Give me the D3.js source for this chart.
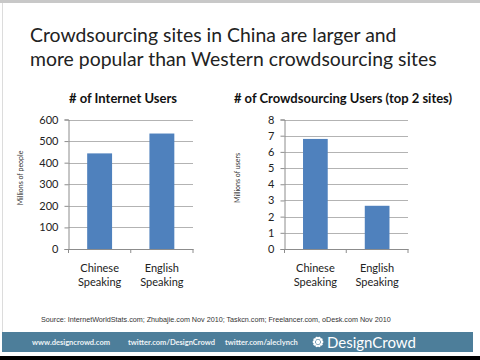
<!DOCTYPE html>
<html>
<head>
<meta charset="utf-8">
<script src="https://cdn.jsdelivr.net/npm/d3@7"></script>
<style>
  body { margin: 0; background: #fff; }
</style>
</head>
<body>
<script>
var width = 480, height = 360;
var FONT = "Lato, 'Open Sans', sans-serif";

// data
var categories = ["Chinese Speaking", "English Speaking"];
var internetUsers = [443, 535];
var crowdUsers = [6.8, 2.67];
var internetTicks = [0, 100, 200, 300, 400, 500, 600];
var crowdTicks = [0, 1, 2, 3, 4, 5, 6, 7, 8];
var titleLines = ["Crowdsourcing sites in China are larger and",
                  "more popular than Western crowdsourcing sites"];
var footerLinks = ["www.designcrowd.com", "twitter.com/DesignCrowd", "twitter.com/aleclynch"];

var svg = d3.select("body").append("svg")
    .attr("width", width)
    .attr("height", height)
    .attr("font-family", FONT);

// slide frame
svg.append("rect").attr("x", 0).attr("y", 0).attr("width", width).attr("height", height).attr("fill", "#fff");
svg.append("rect").attr("x", 0).attr("y", 0).attr("width", width).attr("height", 3).attr("fill", "#c8c8c8");
svg.append("line").attr("x1", 2.5).attr("x2", 2.5).attr("y1", 3).attr("y2", 352)
    .attr("stroke", "#dcdcdc");
svg.append("rect").attr("x", 0).attr("y", 356).attr("width", width).attr("height", 4).attr("fill", "#000");

// main title
svg.append("g").selectAll("text")
    .data(titleLines)
  .enter().append("text")
    .attr("x", 30)
    .attr("y", function(d, i) { return 42 + i * 24; })
    .attr("font-size", 19.4)
    .attr("fill", "#222")
    .text(function(d) { return d; });

function drawChart(opts) {
  var g = svg.append("g");
  var x = d3.scaleBand().domain(categories).range([opts.left, opts.right]).paddingInner(0.6).paddingOuter(0.3);
  var y = d3.scaleLinear().domain([0, opts.max]).range([249, 119.5]);

  // gridlines
  g.selectAll(".grid").data(opts.ticks.slice(1))
    .enter().append("line")
      .attr("x1", opts.left).attr("x2", opts.right)
      .attr("y1", function(d) { return Math.round(y(d)) + 0.5; })
      .attr("y2", function(d) { return Math.round(y(d)) + 0.5; })
      .attr("stroke", "#a0a0a0").attr("stroke-width", 0.8);

  g.selectAll("rect").data(opts.values)
    .enter().append("rect")
      .attr("x", function(d, i) { return x(categories[i]); })
      .attr("width", x.bandwidth())
      .attr("y", function(d) { return y(d); })
      .attr("height", function(d) { return y(0) - y(d); })
      .attr("fill", "#4f81bd");

  var yAxis = g.append("g")
      .attr("transform", "translate(" + opts.left + ",0)")
      .call(d3.axisLeft(y).tickValues(opts.ticks).tickSize(4).tickPadding(6));
  yAxis.select(".domain").attr("stroke", "#8c8c8c");
  yAxis.selectAll(".tick line").attr("stroke", "#8c8c8c");
  yAxis.selectAll("text").attr("font-size", 11).attr("font-family", FONT).attr("fill", "#222");

  var xAxis = g.append("g")
      .attr("transform", "translate(0," + y(0) + ")")
      .call(d3.axisBottom(x).tickSize(0).tickFormat(""));
  xAxis.select(".domain").attr("stroke", "#8c8c8c");
  g.selectAll(".sep").data([opts.left, (opts.left + opts.right) / 2, opts.right])
    .enter().append("line")
      .attr("x1", function(d) { return d; }).attr("x2", function(d) { return d; })
      .attr("y1", y(0)).attr("y2", y(0) + 4)
      .attr("stroke", "#8c8c8c");

  var labels = g.selectAll(".cat").data(categories)
    .enter().append("text")
      .attr("text-anchor", "middle")
      .attr("font-size", 11)
      .attr("fill", "#222")
      .attr("x", function(d) { return x(d) + x.bandwidth() / 2; })
      .attr("y", 272);
  labels.append("tspan").text(function(d) { return d.split(" ")[0]; });
  labels.append("tspan")
      .attr("x", function(d) { return x(d) + x.bandwidth() / 2; })
      .attr("dy", 14)
      .text(function(d) { return d.split(" ")[1]; });

  g.append("text")
      .attr("x", opts.titleX).attr("y", 103)
      .attr("text-anchor", "middle")
      .attr("font-size", 13).attr("font-weight", "bold")
      .attr("fill", "#111")
      .text(opts.title);

  g.append("text")
      .attr("transform", "translate(" + opts.axisX + ",178) rotate(-90)")
      .attr("text-anchor", "middle")
      .attr("font-size", 7)
      .attr("fill", "#333")
      .text(opts.axisTitle);
}

drawChart({ left: 68.5, right: 193, max: 600, ticks: internetTicks, values: internetUsers,
            title: "# of Internet Users", titleX: 123, axisTitle: "Millions of people", axisX: 23 });
drawChart({ left: 284.5, right: 408, max: 8, ticks: crowdTicks, values: crowdUsers,
            title: "# of Crowdsourcing Users (top 2 sites)", titleX: 343, axisTitle: "Millions of users", axisX: 240 });

// source
svg.append("text")
    .attr("x", 41).attr("y", 322)
    .attr("font-size", 7.2)
    .attr("font-family", "Arial, 'Liberation Sans', sans-serif")
    .attr("fill", "#333")
    .text("Source: InternetWorldStats.com; Zhubajie.com Nov 2010; Taskcn.com; Freelancer.com, oDesk.com Nov 2010");

// footer bar
svg.append("rect").attr("x", 2).attr("y", 332).attr("width", 471).attr("height", 20).attr("fill", "#4d7e9a");
var footX = [32, 128, 225];
svg.append("g").selectAll("text").data(footerLinks)
  .enter().append("text")
    .attr("x", function(d, i) { return footX[i]; })
    .attr("y", 345)
    .attr("font-size", 7.5)
    .attr("font-weight", "bold")
    .attr("fill", "#eef3f6")
    .text(function(d) { return d; });

// logo burst
var logo = svg.append("g").attr("transform", "translate(318,342)");
logo.selectAll("circle").data(d3.range(10))
  .enter().append("circle")
    .attr("cx", function(d) { return 4 * Math.cos(d / 10 * 2 * Math.PI); })
    .attr("cy", function(d) { return 4 * Math.sin(d / 10 * 2 * Math.PI); })
    .attr("r", 1.4)
    .attr("fill", "#fff");
logo.append("circle").attr("r", 2.2).attr("fill", "#fff");
svg.append("text")
    .attr("x", 327).attr("y", 348)
    .attr("font-size", 15)
    .attr("fill", "#fff")
    .text("DesignCrowd");
</script>
</body>
</html>
